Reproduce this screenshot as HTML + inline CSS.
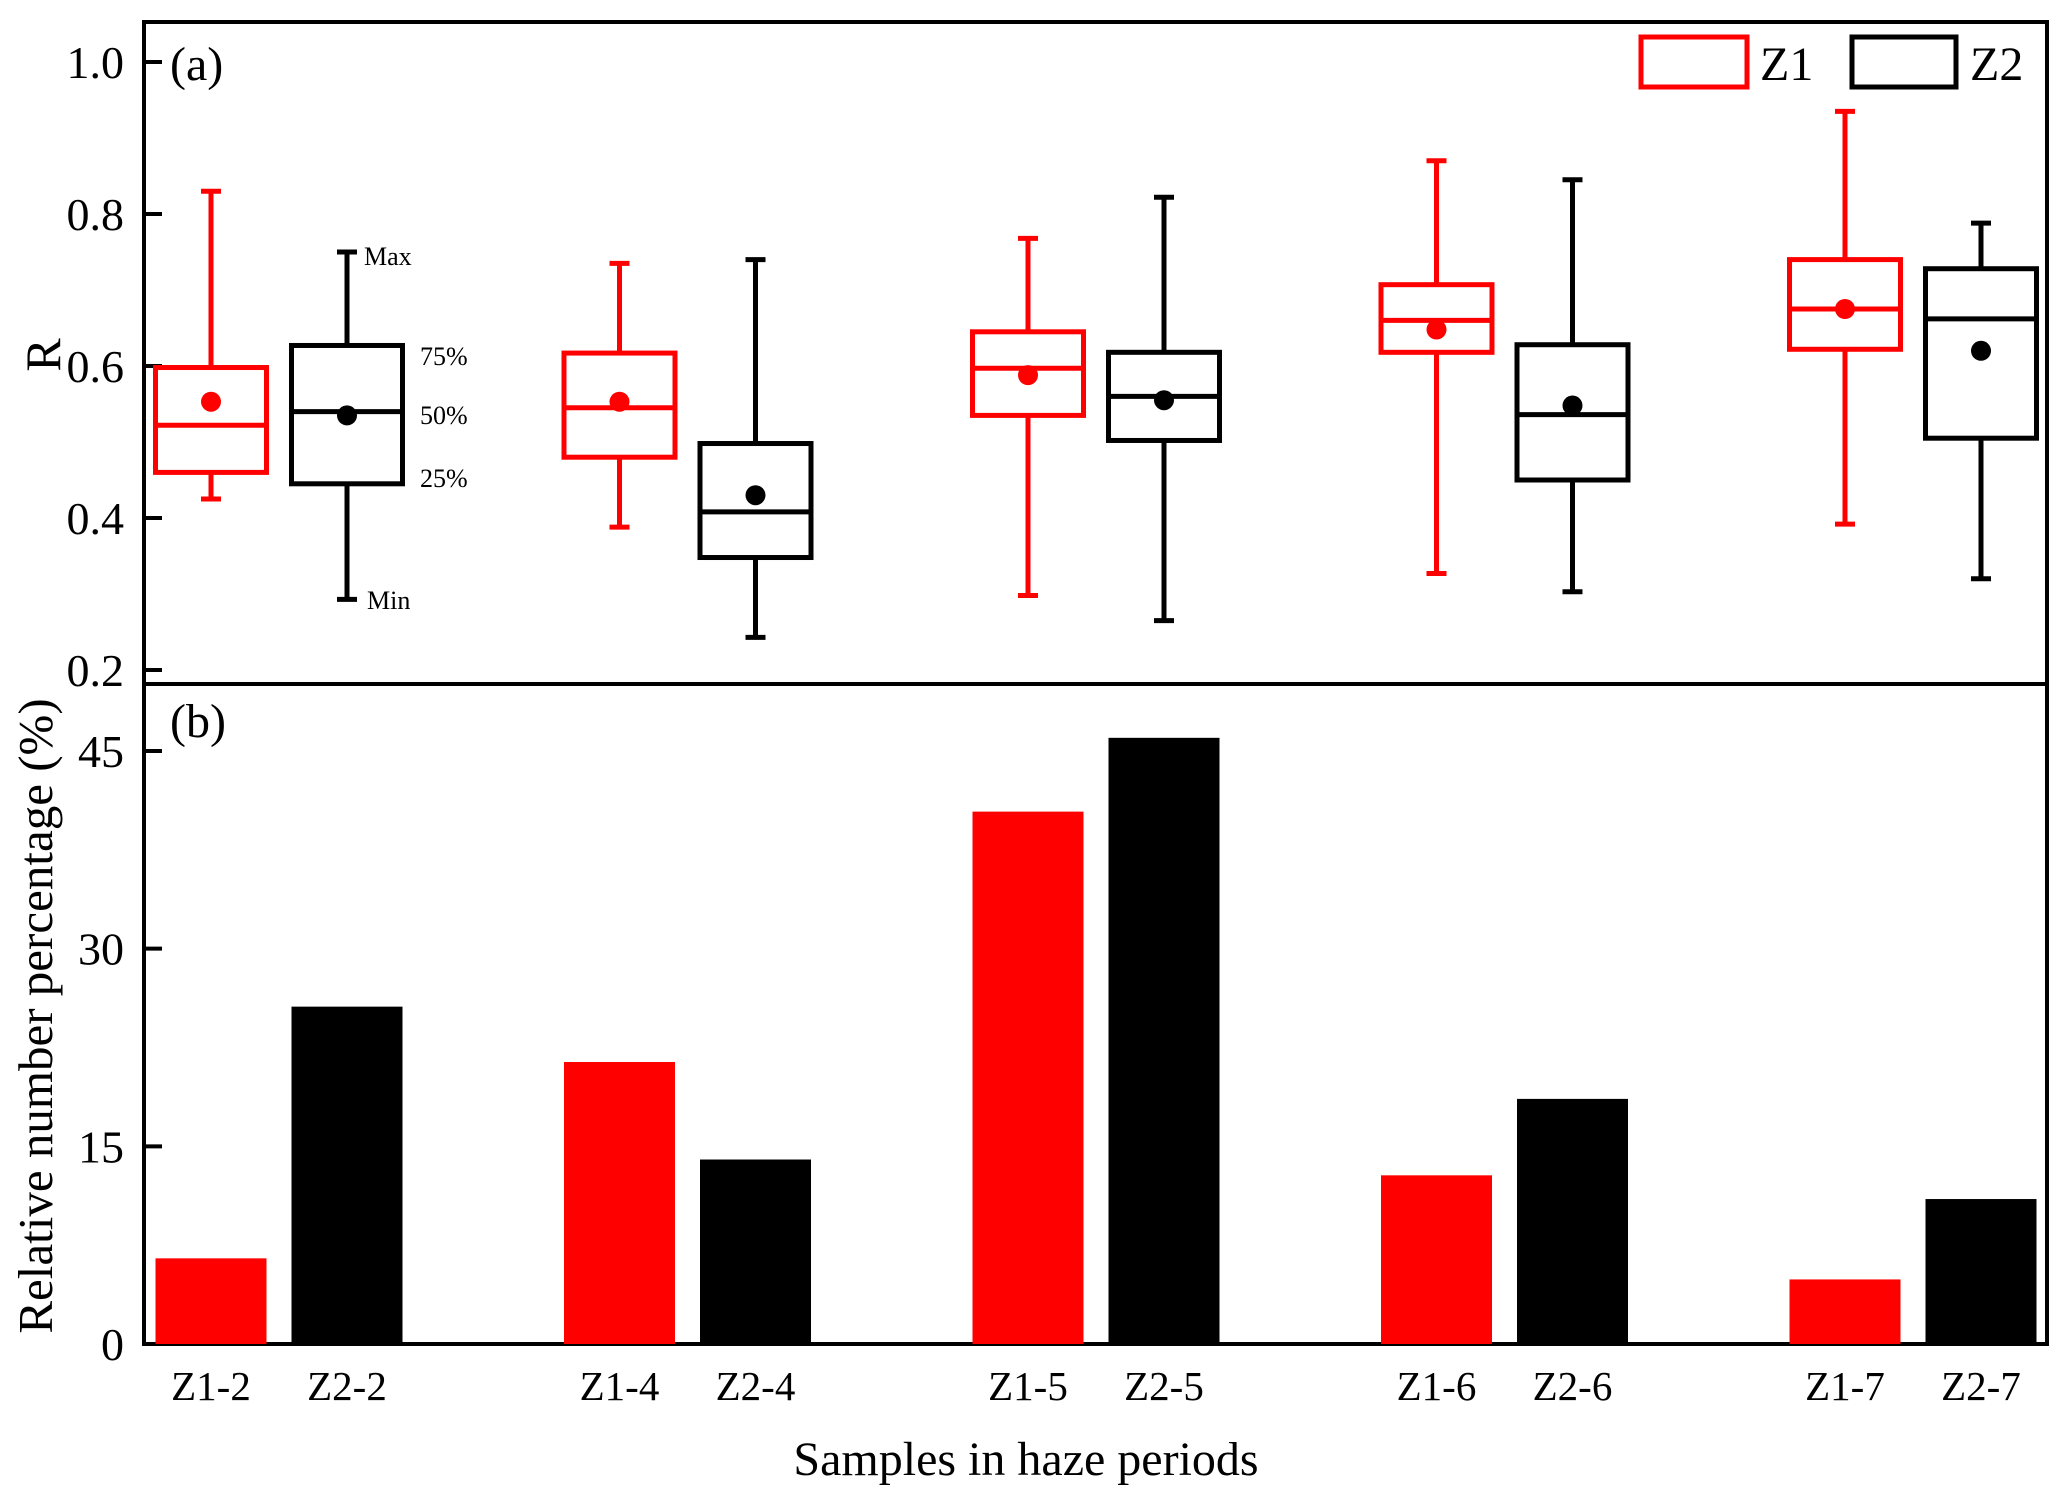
<!DOCTYPE html>
<html><head><meta charset="utf-8"><style>
html,body{margin:0;padding:0;background:#fff;}
svg{display:block;font-family:"Liberation Serif",serif;}
</style></head><body>
<svg id="chart" width="2067" height="1509" viewBox="0 0 2067 1509" xmlns="http://www.w3.org/2000/svg">
<rect x="0" y="0" width="2067" height="1509" fill="#fff"/>
<g id="frame"></g>
<g id="boxes"></g>
<g id="bars"></g>
<text x="170" y="80" font-size="48">(a)</text>
<text x="170" y="737" font-size="48">(b)</text>
<text transform="translate(60,355) rotate(-90)" text-anchor="middle" font-size="50">R</text>
<text transform="translate(52,1016) rotate(-90)" text-anchor="middle" font-size="49">Relative number percentage (%)</text>
<text x="1026" y="1475" text-anchor="middle" font-size="48">Samples in haze periods</text>
<g>
<rect x="1641" y="37" width="106" height="50" fill="none" stroke="#ff0000" stroke-width="5"/>
<text x="1760" y="80" font-size="48">Z1</text>
<rect x="1852" y="37" width="104" height="50" fill="none" stroke="#000" stroke-width="5"/>
<text x="1970" y="80" font-size="48">Z2</text>
</g>
<g font-size="26">
<text x="364" y="265">Max</text>
<text x="420" y="365">75%</text>
<text x="420" y="424">50%</text>
<text x="420" y="487">25%</text>
<text x="367" y="609">Min</text>
</g>
</svg>
<script>
const categories = ["Z1-2","Z2-2","Z1-4","Z2-4","Z1-5","Z2-5","Z1-6","Z2-6","Z1-7","Z2-7"];
const series = ["Z1","Z2","Z1","Z2","Z1","Z2","Z1","Z2","Z1","Z2"];
const maxVals = [0.83,0.75,0.735,0.74,0.768,0.822,0.87,0.845,0.935,0.788];
const q3Vals = [0.598,0.627,0.617,0.498,0.645,0.618,0.707,0.628,0.74,0.728];
const medVals = [0.522,0.54,0.545,0.408,0.597,0.56,0.66,0.536,0.675,0.662];
const q1Vals = [0.46,0.445,0.48,0.348,0.535,0.502,0.618,0.45,0.622,0.505];
const minVals = [0.425,0.293,0.388,0.243,0.298,0.265,0.327,0.303,0.392,0.32];
const meanVals = [0.553,0.535,0.553,0.43,0.588,0.555,0.648,0.548,0.675,0.62];
const pctVals = [6.5,25.6,21.4,14,40.4,46,12.8,18.6,4.9,11];
const rTicks = [0.2,0.4,0.6,0.8,1.0];
const rTickLabels = ["0.2","0.4","0.6","0.8","1.0"];
const pTicks = [0,15,30,45];
const pTickLabels = ["0","15","30","45"];

const NS="http://www.w3.org/2000/svg";
const L=144,R=2047,TOP=22,MID=684,BOT=1344;
const yR=v=>670-(v-0.2)*(670-62)/0.8;
const yP=v=>1344-v*(1344-751)/45;
const xC=i=>{const g=Math.floor(i/2),s=i%2;return 211+g*408.5+s*136;};
const BW=111;
function mk(tag,attrs,parent){const e=document.createElementNS(NS,tag);for(const k in attrs)e.setAttribute(k,attrs[k]);parent.appendChild(e);return e;}
const frame=document.getElementById('frame');
let e=mk('rect',{x:L,y:TOP,width:R-L,height:BOT-TOP,fill:'none',stroke:'#000','stroke-width':4},frame);


e=mk('line',{x1:L,y1:MID,x2:R,y2:MID,stroke:'#000','stroke-width':4},frame);


rTicks.forEach((t,i)=>{
  const y=yR(t);
  let l=mk('line',{x1:L,y1:y,x2:L+18,y2:y,stroke:'#000','stroke-width':4},frame);
  
  
  let tx=mk('text',{x:124,y:y+16,'text-anchor':'end','font-size':46},frame);
  tx.textContent=rTickLabels[i];
  
  
});
pTicks.forEach((t,i)=>{
  const y=yP(t);
  let l=mk('line',{x1:L,y1:y,x2:L+18,y2:y,stroke:'#000','stroke-width':4},frame);
  
  
  let tx=mk('text',{x:124,y:y+16,'text-anchor':'end','font-size':46},frame);
  tx.textContent=pTickLabels[i];
  
  
});
const boxes=document.getElementById('boxes');
const bars=document.getElementById('bars');
categories.forEach((c,i)=>{
  const col=series[i]==='Z1'?'#ff0000':'#000';
  const x=xC(i);
  const g=mk('g',{stroke:col,'stroke-width':5,fill:'none'},boxes);
  
  
  mk('line',{x1:x,y1:yR(maxVals[i]),x2:x,y2:yR(q3Vals[i])},g);
  mk('line',{x1:x,y1:yR(q1Vals[i]),x2:x,y2:yR(minVals[i])},g);
  mk('line',{x1:x-10,y1:yR(maxVals[i]),x2:x+10,y2:yR(maxVals[i])},g);
  mk('line',{x1:x-10,y1:yR(minVals[i]),x2:x+10,y2:yR(minVals[i])},g);
  mk('rect',{x:x-BW/2,y:yR(q3Vals[i]),width:BW,height:yR(q1Vals[i])-yR(q3Vals[i]),fill:'#fff'},g);
  mk('line',{x1:x-BW/2,y1:yR(medVals[i]),x2:x+BW/2,y2:yR(medVals[i])},g);
  mk('circle',{cx:x,cy:yR(meanVals[i]),r:10,fill:col,stroke:'none'},g);
  const b=mk('rect',{x:x-BW/2,y:yP(pctVals[i]),width:BW,height:BOT-yP(pctVals[i]),fill:col},bars);
  
  
  const t=mk('text',{x:x,y:1400,'text-anchor':'middle','font-size':41},bars);
  t.textContent=c;
  
  
});
</script>
</body></html>
